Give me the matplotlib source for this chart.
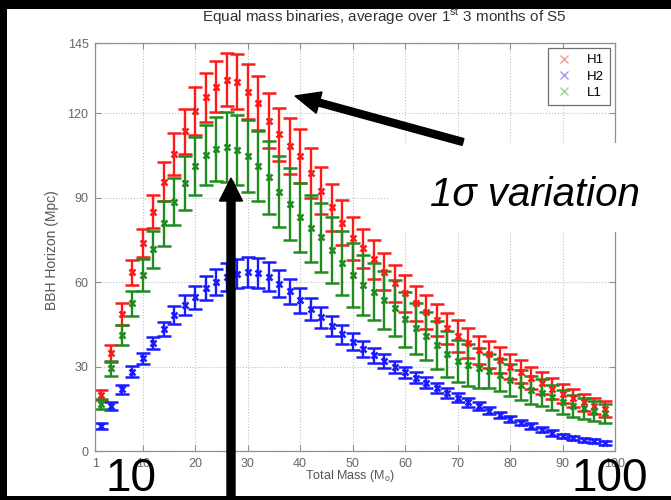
import matplotlib
matplotlib.use('Agg')
import matplotlib.pyplot as plt
from matplotlib.lines import Line2D
from matplotlib.patches import Rectangle, FancyArrow
from matplotlib.transforms import Affine2D

plt.rcParams['font.family'] = ['Liberation Sans', 'DejaVu Sans']
plt.rcParams['mathtext.fontset'] = 'custom'
plt.rcParams['mathtext.rm'] = 'Liberation Sans'
plt.rcParams['mathtext.it'] = 'Liberation Sans:italic'

# total mass of the equal-mass binary (solar masses)
mass = list(range(2, 100, 2))

# BBH horizon distance (Mpc) and 1 sigma spread per detector
h1 = [19.9, 34.7, 48.7, 63.5, 74.0, 85.0, 95.7, 105.5, 113.7, 120.9,
      125.7, 129.5, 132.0, 131.2, 127.7, 123.6, 117.4, 112.5, 108.4, 104.8,
      98.9, 92.5, 86.6, 81.1, 75.6, 72.0, 68.1, 63.7, 59.6, 56.0,
      52.5, 49.5, 46.6, 43.6, 40.9, 38.3, 36.0, 34.3, 32.3, 30.0,
      28.2, 26.0, 24.1, 22.2, 20.3, 18.8, 17.3, 16.0, 15.0]
h1_err = [1.8, 3.0, 3.8, 4.4, 5.0, 5.9, 7.0, 7.4, 8.0, 8.6,
          8.8, 9.0, 9.5, 9.8, 9.8, 9.5, 9.8, 9.5, 9.8, 9.5,
          8.9, 8.4, 8.3, 8.0, 7.6, 6.8, 6.8, 6.5, 6.6, 6.5,
          6.3, 6.1, 5.8, 5.6, 5.6, 5.3, 5.0, 4.8, 4.6, 4.4,
          4.2, 4.0, 3.8, 3.6, 3.4, 3.2, 3.0, 2.9, 2.8]

h2 = [8.9, 16.0, 21.9, 28.2, 32.9, 38.3, 43.2, 48.3, 51.9, 54.6,
      57.8, 60.0, 61.7, 63.0, 63.5, 63.3, 62.0, 59.5, 56.8, 53.5,
      50.5, 47.5, 44.5, 41.5, 38.8, 36.2, 34.0, 32.0, 29.9, 27.9,
      26.1, 24.3, 22.4, 20.6, 18.9, 17.3, 15.9, 14.3, 12.8, 11.4,
      10.1, 8.9, 7.6, 6.4, 5.4, 4.6, 3.9, 3.4, 3.0]
h2_err = [1.0, 1.3, 1.5, 2.0, 2.0, 2.2, 2.5, 3.2, 3.5, 4.0,
          4.3, 4.6, 5.0, 5.2, 5.3, 5.3, 5.0, 4.8, 4.5, 4.3,
          4.0, 3.8, 3.5, 3.3, 3.0, 2.8, 2.6, 2.4, 2.2, 2.1,
          2.0, 1.9, 1.8, 1.7, 1.6, 1.5, 1.4, 1.3, 1.2, 1.1,
          1.0, 1.0, 0.9, 0.9, 0.8, 0.8, 0.7, 0.7, 0.7]

l1 = [16.7, 29.4, 41.2, 52.5, 62.5, 71.7, 80.9, 88.6, 95.3, 101.3,
      105.2, 107.2, 108.0, 107.0, 104.8, 101.3, 97.3, 92.2, 87.8, 83.0,
      79.1, 75.9, 71.4, 66.9, 62.5, 59.0, 56.6, 53.7, 50.7, 46.8,
      43.6, 40.9, 37.7, 34.5, 32.0, 30.5, 29.5, 28.5, 27.0, 25.2,
      23.5, 21.7, 20.7, 19.1, 17.5, 16.0, 15.2, 14.2, 13.4]
l1_err = [1.8, 2.7, 3.7, 4.5, 5.6, 6.5, 8.0, 8.4, 9.5, 10.2,
          10.8, 11.4, 12.5, 12.3, 12.7, 12.4, 13.0, 12.7, 12.9, 12.3,
          12.0, 12.3, 11.7, 11.4, 11.3, 10.7, 10.2, 10.4, 10.0, 9.8,
          9.0, 8.5, 8.6, 8.3, 7.5, 7.4, 7.1, 6.0, 5.8, 5.6,
          5.3, 5.0, 4.8, 4.5, 4.3, 4.0, 3.8, 3.6, 3.4]

labels = ['H1', 'H2', 'L1']
colors = ['#ff1a1a', '#1a1aff', '#1e8c1e']
legend_colors = ['#f59a9a', '#9a9af5', '#9ad09a']
xticks = [1, 10, 20, 30, 40, 50, 60, 70, 80, 90, 100]
yticks = [0, 30, 60, 90, 120, 145]

W, H = 671, 500
fig = plt.figure(figsize=(W / 100, H / 100), dpi=100, facecolor='black')
px = Affine2D().scale(1 / W, 1 / H) + fig.transFigure

# white slide area inside the black frame
fig.patches.append(Rectangle((7, 4), W - 7, H - 13, transform=px,
                             facecolor='white', edgecolor='none', zorder=-2))

ax = fig.add_axes([95.5 / W, 49 / H, 519.5 / W, 408 / H])
for y, e, c, lab in zip([h1, h2, l1], [h1_err, h2_err, l1_err], colors, labels):
    ax.errorbar(mass, y, yerr=e, fmt='x', color=c, ecolor=c, elinewidth=1.7,
                capsize=5.0, capthick=1.7, ms=5, mew=1.8, label=lab)

ax.set_xlim(1, 100)
ax.set_ylim(0, 145)
ax.set_xticks(xticks)
ax.set_yticks(yticks)
ax.grid(True, ls=':', color='#c0c0c0', lw=0.8)
ax.tick_params(direction='in', length=4, color='#909090', labelcolor='#666666',
               labelsize=9, top=True, right=True, pad=5)
for sp in ax.spines.values():
    sp.set_color('#909090')
    sp.set_linewidth(0.9)

handles = [Line2D([], [], ls='none', marker='x', ms=6, mew=1.0, color=c)
           for c in legend_colors]
leg = ax.legend(handles, labels, loc='upper right', fancybox=False,
                edgecolor='#707070', framealpha=1, fontsize=9.5,
                borderaxespad=0.35, borderpad=0.5, handlelength=1.4,
                handletextpad=1.0, labelspacing=0.3)
leg.get_frame().set_linewidth(0.9)

fig.text(384 / W, 1 - 17 / H,
         r'Equal mass binaries, average over 1$^{\mathrm{st}}$ 3 months of S5',
         ha='center', va='center', fontsize=11, color='#333333')
fig.text(52 / W, 250 / H, 'BBH Horizon (Mpc)', rotation=90,
         ha='center', va='center', fontsize=10, color='#555555')
fig.text(350 / W, 24 / H, r'Total Mass (M$_{\mathrm{o}}$)',
         ha='center', va='center', fontsize=9, color='#555555')

# callout box and arrows
fig.patches.append(Rectangle((390, H - 232), W - 390, 89, transform=px,
                             facecolor='white', edgecolor='none', zorder=5))
fig.text(535 / W, (H - 195) / H, '1σ variation', style='italic',
         ha='center', va='center', fontsize=29, color='black', zorder=7)
fig.patches.append(FancyArrow(231, 0, 0, H - 178, width=8, head_width=23,
                              head_length=23, length_includes_head=True,
                              transform=px, color='black', zorder=6))
fig.patches.append(FancyArrow(463, H - 142, 295 - 463, 142 - 96, width=7,
                              head_width=22, head_length=25,
                              length_includes_head=True,
                              transform=px, color='black', zorder=6))

# large axis-end labels and bottom bar
fig.text(131 / W, 9 / H, '10', ha='center', va='baseline', fontsize=33,
         color='black', zorder=7)
fig.text(610 / W, 9 / H, '100', ha='center', va='baseline', fontsize=33,
         color='black', zorder=7)
fig.patches.append(Rectangle((23, 0), W - 23, 4, transform=px,
                             facecolor='black', edgecolor='none', zorder=8))

fig.savefig('out.png', dpi=100, facecolor=fig.get_facecolor())
